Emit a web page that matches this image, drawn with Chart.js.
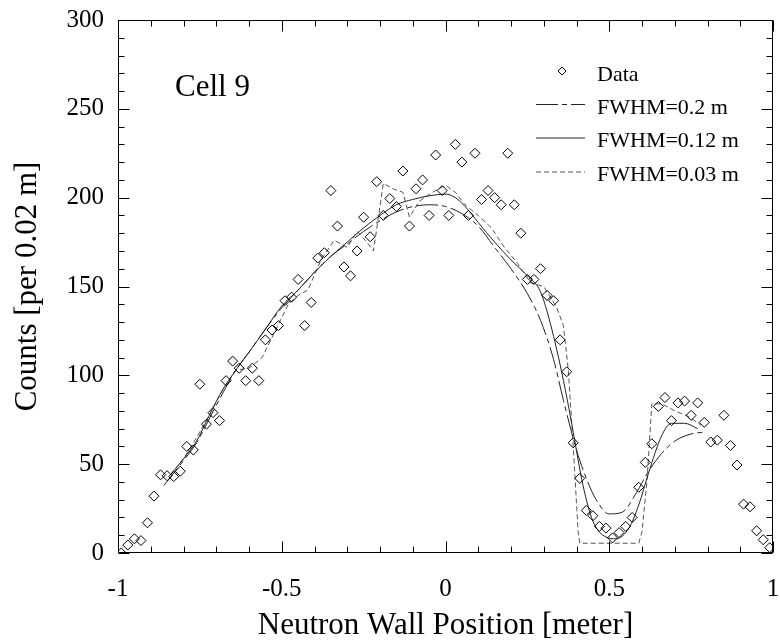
<!DOCTYPE html>
<html>
<head>
<meta charset="utf-8">
<script src="https://cdn.jsdelivr.net/npm/chart.js@4.4.0/dist/chart.umd.min.js"></script>
<style>
  html, body { margin: 0; padding: 0; background: #fff; }
</style>
</head>
<body>
<canvas id="cellChart" width="780" height="644"></canvas>
<script>
// bin centres of the neutron wall (0.02 m bins)
const positions = [
  -0.99, -0.97, -0.95, -0.93, -0.91, -0.89, -0.87, -0.85, -0.83, -0.81,
  -0.79, -0.77, -0.75, -0.73, -0.71, -0.69, -0.67, -0.65, -0.63, -0.61,
  -0.59, -0.57, -0.55, -0.53, -0.51, -0.49, -0.47, -0.45, -0.43, -0.41,
  -0.39, -0.37, -0.35, -0.33, -0.31, -0.29, -0.27, -0.25, -0.23, -0.21,
  -0.19, -0.17, -0.15, -0.13, -0.11, -0.09, -0.07, -0.05, -0.03, -0.01,
  0.01, 0.03, 0.05, 0.07, 0.09, 0.11, 0.13, 0.15, 0.17, 0.19,
  0.21, 0.23, 0.25, 0.27, 0.29, 0.31, 0.33, 0.35, 0.37, 0.39,
  0.41, 0.43, 0.45, 0.47, 0.49, 0.51, 0.53, 0.55, 0.57, 0.59,
  0.61, 0.63, 0.65, 0.67, 0.69, 0.71, 0.73, 0.75, 0.77, 0.79,
  0.81, 0.83, 0.85, 0.87, 0.89, 0.91, 0.93, 0.95, 0.97, 0.99
];
const counts = [
  0, 4.5, 8, 7, 17, 32, 44, 43.5, 43, 46,
  60, 58, 95, 72.5, 79, 74.5, 97, 108, 104, 97,
  104, 97, 120, 125.5, 128, 142, 144, 154, 128, 141,
  166, 169, 204, 184, 161, 156, 170, 189, 178, 209,
  190, 199.5, 195, 215, 184, 205, 210, 190, 224, 204,
  190, 230, 220, 190, 225, 199, 204, 200, 196, 225,
  196, 180, 154, 154, 160, 145, 142, 120, 102, 62,
  42, 24, 21, 15, 14, 8.5, 11.5, 15, 20, 37,
  51, 61.5, 82.5, 87.5, 74.5, 84.5, 85.5, 77.5, 84.5, 73.5,
  62.5, 63.5, 77.5, 60.5, 49.5, 27.5, 26, 12.5, 7.5, 3
];

// fitted curves
const fit20X = [-0.86, -0.80, -0.76, -0.72, -0.68, -0.64, -0.60, -0.55, -0.50, -0.45,
  -0.40, -0.35, -0.30, -0.25, -0.20, -0.15, -0.10, -0.05, 0, 0.05,
  0.10, 0.15, 0.20, 0.25, 0.29, 0.33, 0.36, 0.40, 0.43, 0.46,
  0.50, 0.54, 0.58, 0.62, 0.66, 0.70, 0.75, 0.79];
const fit20Y = [38, 52, 62, 76, 90, 103, 113, 126, 138, 148,
  158, 167, 174, 181, 187, 192, 195, 196, 195, 191,
  184, 172, 160, 146, 131, 109, 86, 58, 42, 30,
  22, 23, 33, 46, 56, 63, 67, 68];

const fit12X = [-0.84, -0.80, -0.76, -0.72, -0.68, -0.64, -0.60, -0.55, -0.50, -0.45,
  -0.40, -0.35, -0.30, -0.25, -0.20, -0.15, -0.10, -0.05, 0, 0.03,
  0.06, 0.10, 0.15, 0.20, 0.25, 0.29, 0.33, 0.37, 0.39, 0.42,
  0.45, 0.49, 0.52, 0.56, 0.59, 0.62, 0.66, 0.69, 0.73, 0.77];
const fit12Y = [44, 53, 63, 78, 92, 103, 113, 126, 139, 148,
  158, 167, 175, 183, 190, 196, 199, 201, 202, 200,
  195, 186, 175, 165, 156, 147, 122, 88, 68, 38,
  18, 9, 8, 14, 27, 45, 66, 73, 73, 70];

const fit03X = [-0.84, -0.80, -0.76, -0.72, -0.68, -0.64, -0.60, -0.56, -0.52, -0.48,
  -0.45, -0.42, -0.38, -0.34, -0.30, -0.27, -0.24, -0.22, -0.20, -0.19,
  -0.16, -0.13, -0.11, -0.08, -0.04, 0, 0.03, 0.06, 0.10, 0.14,
  0.18, 0.22, 0.26, 0.30, 0.34, 0.36, 0.375, 0.39, 0.405, 0.41,
  0.50, 0.59, 0.60, 0.615, 0.63, 0.66, 0.70, 0.74, 0.78];
const fit03Y = [44, 53, 65, 78, 92, 103, 104, 110, 125, 140,
  145, 148, 165, 176, 172, 181, 175, 170, 195, 208,
  205, 203, 189, 198, 203, 207, 203, 196, 190, 183,
  172, 163, 152, 150, 138, 128, 103, 60, 12, 5.5,
  5.5, 5.5, 12, 40, 84, 84, 80, 77, 72];

const xTicks = [-1, -0.5, 0, 0.5, 1];
const yTicks = [0, 50, 100, 150, 200, 250, 300];

const toXY = (xs, ys) => xs.map((x, i) => ({ x: x, y: ys[i] }));

Chart.defaults.font.family = '"Liberation Serif", "Times New Roman", serif';
Chart.defaults.color = '#000';

// frame with inward ticks on all four sides
const frameTicks = {
  id: 'frameTicks',
  afterDraw(chart) {
    const { ctx, chartArea: a, scales: { x, y } } = chart;
    const L = Math.round(a.left) + 0.5, R = Math.round(a.right) - 0.5;
    const T = Math.round(a.top) + 0.5, B = Math.round(a.bottom) - 0.5;
    ctx.save();
    ctx.strokeStyle = '#000';
    ctx.lineWidth = 1;
    ctx.strokeRect(L, T, R - L, B - T);
    ctx.beginPath();
    for (let i = -10; i <= 10; i++) {
      const px = Math.round(x.getPixelForValue(i / 10)) + 0.5;
      const len = i % 5 === 0 ? 11 : 6;
      ctx.moveTo(px, B); ctx.lineTo(px, B - len);
      ctx.moveTo(px, T); ctx.lineTo(px, T + len);
    }
    for (let v = 0; v <= 300; v += 10) {
      const py = Math.round(y.getPixelForValue(v)) + 0.5;
      const len = v % 50 === 0 ? 11 : 6;
      ctx.moveTo(L, py); ctx.lineTo(L + len, py);
      ctx.moveTo(R, py); ctx.lineTo(R - len, py);
    }
    ctx.stroke();
    ctx.restore();
  }
};

// "Cell 9" label and the legend inside the plot
const insideText = {
  id: 'insideText',
  afterDraw(chart) {
    const { ctx, chartArea: a, scales: { x, y } } = chart;
    ctx.save();
    ctx.fillStyle = '#000';
    ctx.font = '31px "Liberation Serif"';
    ctx.textBaseline = 'alphabetic';
    ctx.fillText('Cell 9', x.getPixelForValue(-0.826), y.getPixelForValue(257));

    const rows = [71, 104, 137.5, 171.5];
    ctx.font = '22px "Liberation Serif"';
    chart.data.datasets.forEach((ds, i) => {
      const ry = rows[i];
      if (ds.showLine) {
        ctx.save();
        ctx.strokeStyle = ds.borderColor;
        ctx.lineWidth = 1;
        ctx.setLineDash(ds.borderDash || []);
        ctx.beginPath();
        ctx.moveTo(a.right - 237, ry + 0.5);
        ctx.lineTo(a.right - 188, ry + 0.5);
        ctx.stroke();
        ctx.restore();
      } else {
        const cx = a.right - 211, r = 4;
        ctx.beginPath();
        ctx.moveTo(cx - r, ry); ctx.lineTo(cx, ry - r);
        ctx.lineTo(cx + r, ry); ctx.lineTo(cx, ry + r);
        ctx.closePath();
        ctx.strokeStyle = '#000';
        ctx.lineWidth = 1;
        ctx.stroke();
      }
      ctx.fillText(ds.label, a.right - 176, ry + 9.5);
    });
    ctx.restore();
  }
};

new Chart(document.getElementById('cellChart'), {
  type: 'scatter',
  data: {
    datasets: [
      {
        label: 'Data',
        data: toXY(positions, counts),
        pointStyle: 'rectRot',
        pointRadius: 5,
        pointBorderColor: '#000',
        pointBackgroundColor: 'rgba(255,255,255,0)',
        pointBorderWidth: 1,
        showLine: false,
        order: 0
      },
      {
        label: 'FWHM=0.2 m',
        data: toXY(fit20X, fit20Y),
        showLine: true,
        borderColor: '#222',
        borderWidth: 1,
        borderDash: [22, 4, 5, 4],
        pointRadius: 0,
        cubicInterpolationMode: 'monotone',
        order: 1
      },
      {
        label: 'FWHM=0.12 m',
        data: toXY(fit12X, fit12Y),
        showLine: true,
        borderColor: '#222',
        borderWidth: 1,
        pointRadius: 0,
        cubicInterpolationMode: 'monotone',
        order: 2
      },
      {
        label: 'FWHM=0.03 m',
        data: toXY(fit03X, fit03Y),
        showLine: true,
        borderColor: '#555',
        borderWidth: 1,
        borderDash: [5, 3],
        pointRadius: 0,
        tension: 0,
        order: 3
      }
    ]
  },
  options: {
    responsive: false,
    animation: false,
    layout: { padding: { left: 0, right: 7, top: 20, bottom: 0 } },
    plugins: {
      legend: { display: false },
      tooltip: { enabled: false }
    },
    scales: {
      x: {
        type: 'linear',
        min: -1,
        max: 1,
        afterBuildTicks: (s) => { s.ticks = xTicks.map(v => ({ value: v })); },
        ticks: { font: { size: 25 }, padding: 21, maxRotation: 0, callback: (v) => String(v) },
        grid: { display: false, drawTicks: false },
        border: { display: false },
        title: { display: true, text: 'Neutron Wall Position [meter]', font: { size: 31 }, padding: { top: 0, bottom: 0 } },
        afterFit: (s) => { s.height = 91; s.paddingLeft = 0; s.paddingRight = 0; }
      },
      y: {
        min: 0,
        max: 300,
        afterBuildTicks: (s) => { s.ticks = yTicks.map(v => ({ value: v })); },
        ticks: { font: { size: 25 }, padding: 14, callback: (v) => String(v) },
        grid: { display: false, drawTicks: false },
        border: { display: false },
        title: { display: true, text: 'Counts [per 0.02 m]', font: { size: 31 }, padding: { top: 9, bottom: 0 } },
        afterFit: (s) => { s.width = 118; s.paddingTop = 0; s.paddingBottom = 0; }
      }
    }
  },
  plugins: [frameTicks, insideText]
});
</script>
</body>
</html>
